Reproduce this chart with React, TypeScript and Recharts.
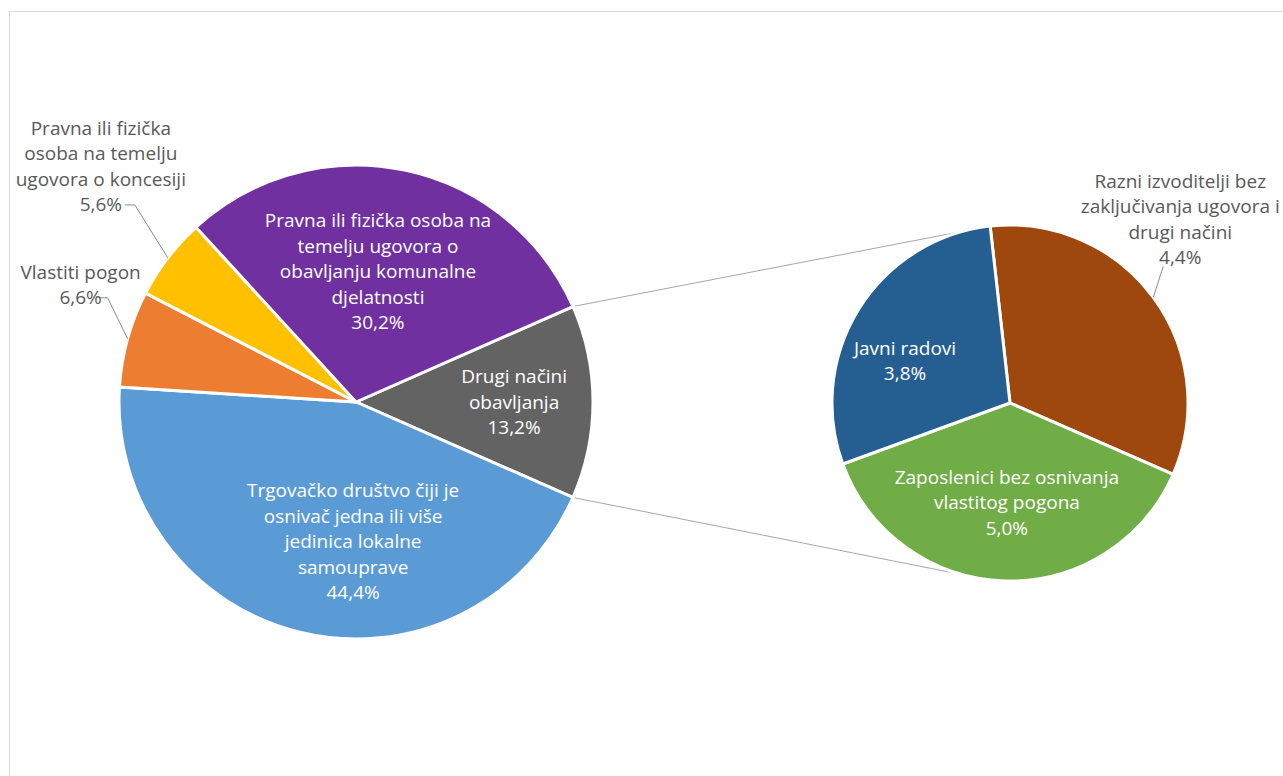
import { PieChart, Pie, Cell, Customized } from "recharts";

// main pie, clockwise from the "Drugi načini" slice on the right
const mainValues = [13.2, 44.4, 6.6, 5.6, 30.2];
const mainLines = [
  ["Drugi načini", "obavljanja"],
  ["Trgovačko društvo čiji je", "osnivač jedna ili više", "jedinica lokalne", "samouprave"],
  ["Vlastiti pogon"],
  ["Pravna ili fizička", "osoba na temelju", "ugovora o koncesiji"],
  ["Pravna ili fizička osoba na", "temelju ugovora o", "obavljanju komunalne", "djelatnosti"],
];
const mainColors = ["#636363", "#5B9BD5", "#ED7D31", "#FFC000", "#7030A0"];

// secondary pie, breakdown of "Drugi načini obavljanja"
const subValues = [4.4, 5.0, 3.8];
const subLines = [
  ["Razni izvoditelji bez", "zaključivanja ugovora i", "drugi načini"],
  ["Zaposlenici bez osnivanja", "vlastitog pogona"],
  ["Javni radovi"],
];
const subColors = ["#9E480E", "#70AD47", "#255E91"];

const W = 1283;
const H = 776;
const MAIN = { cx: 356, cy: 402, r: 237 };
const SUB = { cx: 1010, cy: 403, r: 178 };
const LH = 25.5;
const FS = 19;
const FONT = "'Open Sans', 'Noto Sans', sans-serif";
const RAD = Math.PI / 180;

const mainHalf = (mainValues[0] / 100) * 180;
const subStart = 96.4;

type LabelStyle =
  | { kind: "in"; r: number; shift: number }
  | { kind: "out"; dx: number; dy: number; elbow: [number, number]; end: number };

const mainLabelStyle: LabelStyle[] = [
  { kind: "in", r: 0.667, shift: 0 },
  { kind: "in", r: 0.59, shift: 12.5 },
  { kind: "out", dx: -47, dy: -54, elbow: [-20, -41], end: -8 },
  { kind: "out", dx: -67, dy: -91.5, elbow: [-33, -53], end: -10 },
  { kind: "in", r: 0.557, shift: 2.3 },
];
const subLabelStyle: LabelStyle[] = [
  { kind: "out", dx: 27, dy: -78, elbow: [10, -31], end: 0 },
  { kind: "in", r: 0.56, shift: 0 },
  { kind: "in", r: 0.635, shift: 10 },
];

const fmt = (v: number) => v.toFixed(1).replace(".", ",") + "%";

function makeLabel(lines: string[][], values: number[], styles: LabelStyle[]) {
  return (props: any) => {
    const { cx, cy, midAngle, outerRadius, index } = props;
    const s = styles[index];
    const text = [...lines[index], fmt(values[index])];
    let tx: number;
    let ty: number;
    let fill = "#ffffff";
    let leader = null;
    if (s.kind === "in") {
      const a = (midAngle + s.shift) * RAD;
      tx = cx + outerRadius * s.r * Math.cos(a);
      ty = cy - outerRadius * s.r * Math.sin(a);
    } else {
      const a = midAngle * RAD;
      const ex = cx + outerRadius * Math.cos(a);
      const ey = cy - outerRadius * Math.sin(a);
      tx = ex + s.dx;
      ty = ey + s.dy;
      const bx = ex + s.elbow[0];
      const by = ey + s.elbow[1];
      leader = (
        <polyline
          points={`${ex},${ey} ${bx},${by} ${bx + s.end},${by}`}
          fill="none"
          stroke="#8c8c8c"
          strokeWidth={1}
        />
      );
      fill = "#595959";
    }
    const top = ty - ((text.length - 1) * LH) / 2;
    return (
      <g key={`lbl-${index}`}>
        {leader}
        <text x={tx} y={top} textAnchor="middle" fill={fill} fontSize={FS} fontFamily={FONT}>
          {text.map((t, i) => (
            <tspan key={i} x={tx} y={top + i * LH} dy="0.35em">
              {t}
            </tspan>
          ))}
        </text>
      </g>
    );
  };
}

// lines joining the "Drugi načini" slice to the secondary pie
function Connectors() {
  const pts = [1, -1].map((sgn) => {
    const a = sgn * mainHalf * RAD;
    const b = sgn * 105 * RAD;
    return {
      x1: MAIN.cx + MAIN.r * Math.cos(a),
      y1: MAIN.cy - MAIN.r * Math.sin(a),
      x2: SUB.cx + SUB.r * Math.cos(b),
      y2: SUB.cy - SUB.r * Math.sin(b),
    };
  });
  return (
    <g>
      {pts.map((p, i) => (
        <line key={i} {...p} stroke="#a6a6a6" strokeWidth={1} />
      ))}
    </g>
  );
}

const mainData = mainValues.map((value, i) => ({ name: mainLines[i].join(" "), value }));
const subData = subValues.map((value, i) => ({ name: subLines[i].join(" "), value }));

export default function App() {
  return (
    <div
      style={{
        position: "absolute",
        left: 0,
        top: 0,
        width: W,
        height: H,
        overflow: "hidden",
        background: "#ffffff",
      }}
    >
      <div
        style={{
          position: "absolute",
          left: 9,
          top: 11,
          width: W,
          height: H,
          border: "1.5px solid #d9d9d9",
        }}
      />
      <div style={{ position: "absolute", left: 0, top: 0 }}>
        <PieChart width={W} height={H} margin={{ top: 0, right: 0, bottom: 0, left: 0 }}>
          <Customized component={Connectors} />
          <Pie
            data={mainData}
            dataKey="value"
            cx={MAIN.cx}
            cy={MAIN.cy}
            outerRadius={MAIN.r}
            startAngle={mainHalf}
            endAngle={mainHalf - 360}
            stroke="#ffffff"
            strokeWidth={3}
            labelLine={false}
            label={makeLabel(mainLines, mainValues, mainLabelStyle)}
            isAnimationActive={false}
          >
            {mainData.map((d, i) => (
              <Cell key={d.name} fill={mainColors[i]} />
            ))}
          </Pie>
          <Pie
            data={subData}
            dataKey="value"
            cx={SUB.cx}
            cy={SUB.cy}
            outerRadius={SUB.r}
            startAngle={subStart}
            endAngle={subStart - 360}
            stroke="#ffffff"
            strokeWidth={3}
            labelLine={false}
            label={makeLabel(subLines, subValues, subLabelStyle)}
            isAnimationActive={false}
          >
            {subData.map((d, i) => (
              <Cell key={d.name} fill={subColors[i]} />
            ))}
          </Pie>
        </PieChart>
      </div>
    </div>
  );
}
